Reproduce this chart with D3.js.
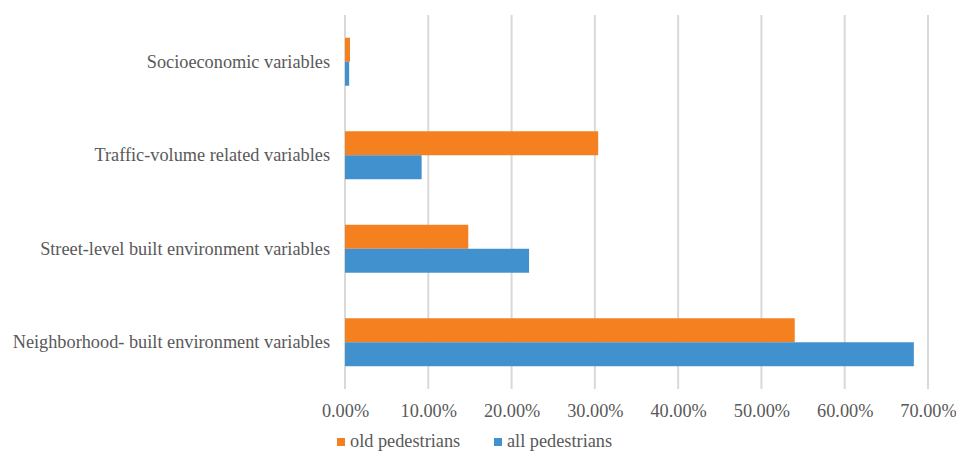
<!DOCTYPE html>
<html>
<head>
<meta charset="utf-8">
<script src="https://cdn.jsdelivr.net/npm/d3@7"></script>
<style>
  html, body { margin: 0; padding: 0; background: #fff; }
  svg { display: block; }
</style>
</head>
<body>
<svg id="chart" width="956" height="451"></svg>
<script>
// Share of explained importance by variable group
const categories = [
  "Socioeconomic variables",
  "Traffic-volume related variables",
  "Street-level built environment variables",
  "Neighborhood- built environment variables"
];
const seriesNames = ["old pedestrians", "all pedestrians"];
const oldPedestrians = [0.006, 0.304, 0.148, 0.540];
const allPedestrians = [0.005, 0.092, 0.221, 0.683];
const tickValues = [0, 0.1, 0.2, 0.3, 0.4, 0.5, 0.6, 0.7];
const colors = ["#F58020", "#4291CF"];

const FONT = "'Liberation Serif', 'Times New Roman', serif";
const FONT_SIZE = "18.3px";
const TEXT_COLOR = "#595959";

const svg = d3.select("#chart");
const plotLeft = 345, plotRight = 928, plotTop = 15, plotBottom = 389;

const x = d3.scaleLinear().domain([0, 0.7]).range([plotLeft, plotRight]);
const y = d3.scaleBand().domain(categories).range([plotTop, plotBottom]).paddingInner(0.487).paddingOuter(0.2435);
const sub = d3.scaleBand().domain(seriesNames).range([0, y.bandwidth()]);

// vertical gridlines
svg.append("g").selectAll("line").data(tickValues).join("line")
  .attr("x1", d => x(d)).attr("x2", d => x(d))
  .attr("y1", plotTop).attr("y2", plotBottom)
  .attr("stroke", "#D9D9D9").attr("stroke-width", 2);

// x axis tick labels
const xAxis = d3.axisBottom(x).tickValues(tickValues).tickSize(0)
  .tickFormat(d => (d * 100).toFixed(2) + "%");
const gx = svg.append("g").attr("transform", `translate(0,${plotBottom})`).call(xAxis)
  .attr("font-family", FONT).attr("font-size", FONT_SIZE);
gx.select(".domain").remove();
gx.selectAll("text").attr("dy", null).attr("y", 28)
  .style("font-family", FONT).style("font-size", FONT_SIZE).style("fill", TEXT_COLOR);

// bars
const seriesData = [oldPedestrians, allPedestrians];
categories.forEach((c, i) => {
  seriesNames.forEach((s, j) => {
    svg.append("rect")
      .attr("x", x(0))
      .attr("y", y(c) + sub(s))
      .attr("width", x(seriesData[j][i]) - x(0))
      .attr("height", sub.bandwidth())
      .attr("fill", colors[j]);
  });
});

// category labels
const yAxis = d3.axisLeft(y).tickSize(0).tickPadding(15);
const gy = svg.append("g").attr("transform", `translate(${plotLeft},0)`).call(yAxis)
  .attr("font-family", FONT).attr("font-size", FONT_SIZE);
gy.select(".domain").remove();
gy.selectAll("text").style("font-family", FONT).style("font-size", FONT_SIZE).style("fill", TEXT_COLOR);

// legend
const legend = svg.append("g");
const legendX = [337, 494];
seriesNames.forEach((s, j) => {
  legend.append("rect").attr("x", legendX[j]).attr("y", 438).attr("width", 8).attr("height", 8).attr("fill", colors[j]);
  legend.append("text").attr("x", legendX[j] + 13).attr("y", 447)
    .style("font-family", FONT).style("font-size", FONT_SIZE).style("fill", TEXT_COLOR).text(s);
});
</script>
</body>
</html>
